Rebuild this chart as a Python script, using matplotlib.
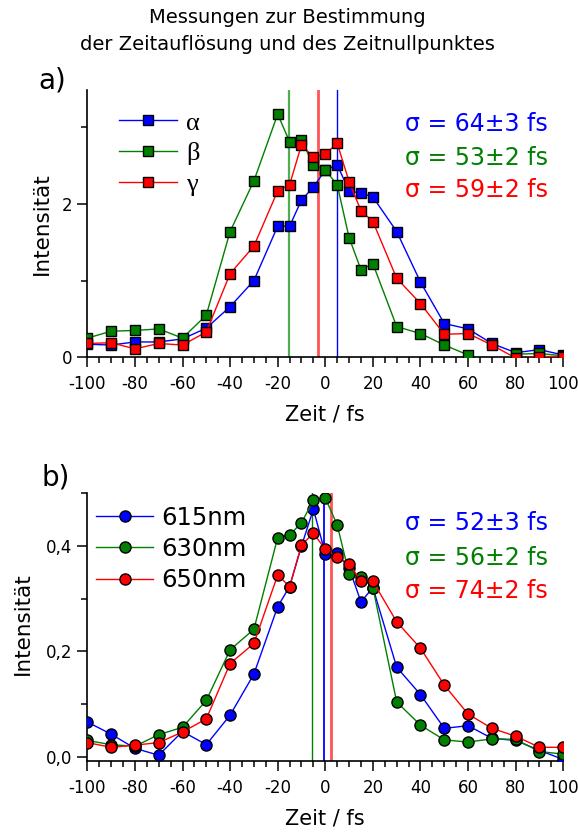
import matplotlib
matplotlib.use("Agg")
import matplotlib.pyplot as plt
from matplotlib.ticker import MultipleLocator

plt.rcParams["axes.unicode_minus"] = False

# --- data (a): delay scan, three probe settings ---
zeit_a = [-100, -90, -80, -70, -60, -50, -40, -30, -20, -15, -10, -5, 0, 5, 10, 15, 20,
          30, 40, 50, 60, 70, 80, 90, 100]
alpha = [0.17, 0.16, 0.20, 0.20, 0.24, 0.38, 0.66, 1.00, 1.71, 1.71, 2.05, 2.22, 2.44, 2.51,
         2.17, 2.14, 2.09, 1.64, 0.98, 0.44, 0.37, 0.18, 0.06, 0.10, 0.03]
beta = [0.25, 0.34, 0.35, 0.37, 0.25, 0.55, 1.64, 2.30, 3.17, 2.81, 2.83, 2.51, 2.44, 2.25,
        1.56, 1.14, 1.22, 0.40, 0.31, 0.16, 0.03, -0.10, 0.04, 0.05, 0.02]
gamma = [0.18, 0.19, 0.11, 0.18, 0.16, 0.33, 1.09, 1.45, 2.17, 2.25, 2.77, 2.61, 2.65, 2.79,
         2.29, 1.91, 1.77, 1.03, 0.70, 0.30, 0.31, 0.16, -0.01, 0.01, 0.01]
t0_a = [4.9, -15.1, -3.2]          # alpha, beta, gamma
sigma_a = ["64±3", "53±2", "59±2"]

# --- data (b): three wavelengths ---
zeit_b = zeit_a
nm615 = [0.066, 0.043, 0.016, 0.003, 0.048, 0.023, 0.079, 0.157, 0.285, 0.323, 0.400, 0.470,
         0.385, 0.386, 0.358, 0.294, 0.321, 0.170, 0.118, 0.054, 0.059, 0.035, 0.031, 0.012, -0.005]
nm630 = [0.031, 0.023, 0.020, 0.042, 0.056, 0.107, 0.203, 0.242, 0.416, 0.421, 0.444, 0.487,
         0.491, 0.440, 0.347, 0.342, 0.321, 0.104, 0.060, 0.032, 0.028, 0.034, 0.033, 0.010, 0.005]
nm650 = [0.027, 0.018, 0.022, 0.027, 0.047, 0.072, 0.177, 0.215, 0.345, 0.323, 0.402, 0.424,
         0.394, 0.379, 0.366, 0.333, 0.333, 0.256, 0.206, 0.136, 0.081, 0.054, 0.039, 0.018, 0.018]
t0_b = [-0.4, -5.7, 2.2]           # 615, 630, 650 nm
sigma_b = ["52±3", "56±2", "74±2"]

blue, green, red = "#0000ff", "#007f00", "#ff0000"

W, H = 578, 832
fig = plt.figure(figsize=(W / 100, H / 100), dpi=100)


def px_axes(left, top, right, bottom):
    return fig.add_axes([left / W, 1 - bottom / H, (right - left) / W, (bottom - top) / H])


def style_axes(ax):
    for s in ("top", "right"):
        ax.spines[s].set_visible(False)
    for s in ("left", "bottom"):
        ax.spines[s].set_linewidth(1.2)
    ax.set_xlim(-100, 100)
    ax.xaxis.set_major_locator(MultipleLocator(20))
    ax.xaxis.set_minor_locator(MultipleLocator(5))
    ax.tick_params(which="major", direction="out", length=7, width=1.1, labelsize=12)
    ax.tick_params(which="minor", direction="out", length=4.5, width=1.1)
    ax.tick_params(axis="x", pad=6)
    ax.tick_params(axis="y", pad=4)
    ax.set_xlabel("Zeit / fs", fontsize=15)


# ---------------- panel a ----------------
ax1 = px_axes(87.3, 90, 563.3, 357.3)
style_axes(ax1)
ax1.set_ylim(0, 3.485)
ax1.set_yticks([0, 2])
ax1.yaxis.set_minor_locator(MultipleLocator(1))

ax1.axvline(t0_a[1], color="#4fae4f", lw=1.6, zorder=1)
ax1.axvline(t0_a[2], color="#ff5555", lw=2, zorder=1)
ax1.axvline(t0_a[0], color=blue, lw=1, zorder=1)

sq = dict(marker="s", ms=7.2, mec="black", mew=1, lw=1, zorder=3)
ax1.plot(zeit_a, alpha, color=blue, mfc=blue, label="α", **sq)
ax1.plot(zeit_a, beta, color=green, mfc=green, label="β", **sq)
ax1.plot(zeit_a, gamma, color=red, mfc=red, label="γ", **sq)

ax1.legend(loc="center left", bbox_to_anchor=(119 / W, 1 - 153.5 / H),
           bbox_transform=fig.transFigure, frameon=False, borderpad=0, borderaxespad=0,
           handlelength=2.2, handletextpad=0.35, labelspacing=0.27,
           prop={"family": "Liberation Serif", "size": 19})

ax1.set_ylabel("Intensität", fontsize=15.5)
ax1.xaxis.set_label_coords(0.5, -0.175)
ax1.xaxis.label.set_va("top")
ax1.yaxis.set_label_coords(-0.074, 0.5)

for txt, col, y in zip(sigma_a, [blue, green, red], [124, 158, 190]):
    fig.text(405 / W, 1 - y / H, "σ = " + txt + " fs", color=col, fontsize=17,
             ha="left", va="center")

# ---------------- panel b ----------------
ax2 = px_axes(87.3, 493.3, 563.3, 761)
style_axes(ax2)
ax2.set_ylim(-0.008, 0.5)
ax2.set_yticks([0, 0.2, 0.4])
ax2.set_yticklabels(["0,0", "0,2", "0,4"])
ax2.yaxis.set_minor_locator(MultipleLocator(0.1))

ax2.axvline(t0_b[1], color=green, lw=1, zorder=1)
ax2.axvline(t0_b[0], color=blue, lw=1.3, zorder=1)
ax2.axvline(t0_b[2], color="#ff5555", lw=2, zorder=1)

ci = dict(marker="o", ms=8, mec="black", mew=1, lw=1, zorder=3)
ax2.plot(zeit_b, nm615, color=blue, mfc=blue, label="615nm", **ci)
ax2.plot(zeit_b, nm630, color=green, mfc=green, label="630nm", **ci)
ax2.plot(zeit_b, nm650, color=red, mfc=red, label="650nm", **ci)

ax2.legend(loc="center left", bbox_to_anchor=(96 / W, 1 - 549 / H),
           bbox_transform=fig.transFigure, frameon=False, borderpad=0, borderaxespad=0,
           handlelength=2.35, handletextpad=0.35, labelspacing=0.29, fontsize=17.5)

ax2.set_ylabel("Intensität", fontsize=15.5)
ax2.xaxis.set_label_coords(0.5, -0.176)
ax2.xaxis.label.set_va("top")
ax2.yaxis.set_label_coords(-0.114, 0.514)

for txt, col, y in zip(sigma_b, [blue, green, red], [523, 558, 591]):
    fig.text(405 / W, 1 - y / H, "σ = " + txt + " fs", color=col, fontsize=17,
             ha="left", va="center")

# titles and panel labels
fig.text(287 / W, 1 - 23.3 / H, "Messungen zur Bestimmung", fontsize=14,
         ha="center", va="baseline")
fig.text(287 / W, 1 - 50 / H, "der Zeitauflösung und des Zeitnullpunktes", fontsize=14,
         ha="center", va="baseline")
fig.text(52 / W, 1 - 80 / H, "a)", fontsize=20, ha="center", va="center")
fig.text(56 / W, 1 - 478 / H, "b)", fontsize=20, ha="center", va="center")

fig.savefig("out.png", dpi=100)
